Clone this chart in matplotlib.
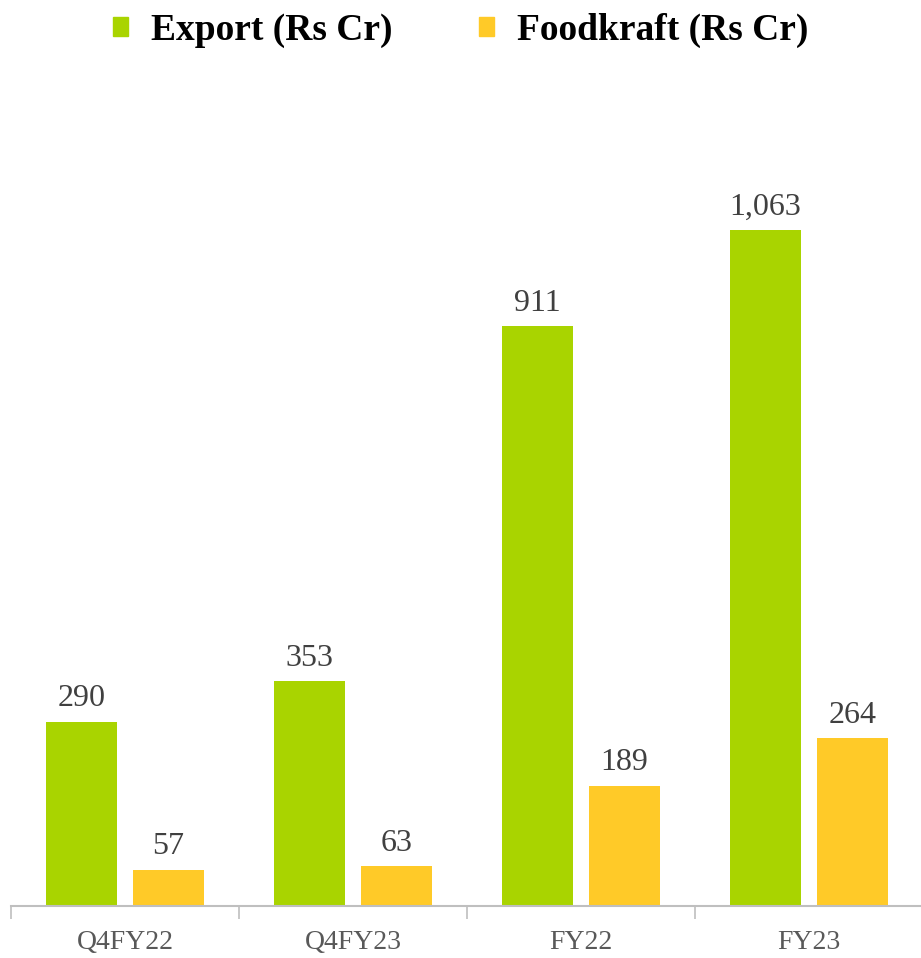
import matplotlib.pyplot as plt
import numpy as np
from matplotlib.patches import Patch

# Datos
categorias = ["Q4FY22", "Q4FY23", "FY22", "FY23"]
export = [290, 353, 911, 1063]
foodkraft = [57, 63, 189, 264]
etiquetas_export = ["290", "353", "911", "1,063"]
etiquetas_food = ["57", "63", "189", "264"]

verde = "#A9D400"
amarillo = "#FFCA28"

plt.rcParams['font.family'] = ['Liberation Serif', 'DejaVu Serif']

fig = plt.figure(figsize=(9.21, 9.58), dpi=100)
ax = fig.add_axes([0.012, 0.0543, 0.99, 0.8632])

x = np.arange(len(categorias))
ancho = 0.31
b1 = ax.bar(x - 0.19, export, ancho, color=verde)
b2 = ax.bar(x + 0.19, foodkraft, ancho, color=amarillo)

ax.bar_label(b1, labels=etiquetas_export, padding=6, fontsize=23, color="#404040")
ax.bar_label(b2, labels=etiquetas_food, padding=6, fontsize=23, color="#404040")

ax.set_xlim(-0.5, 3.5)
ax.set_ylim(0, 1300)

# Ejes: solo la linea inferior gris
for lado in ["top", "right", "left"]:
    ax.spines[lado].set_visible(False)
ax.spines["bottom"].set_color("#BFBFBF")
ax.spines["bottom"].set_linewidth(1.5)
ax.set_yticks([])

ax.set_xticks(x)
ax.set_xticklabels(categorias, fontsize=20, color="#595959")
ax.tick_params(axis="x", which="major", length=0, pad=17)
ax.set_xticks(np.arange(-0.5, 3.6, 1), minor=True)
ax.tick_params(axis="x", which="minor", length=9, width=1.2, color="#BFBFBF")

# Leyenda arriba
handles = [Patch(color=verde, label="Export (Rs Cr)"),
           Patch(color=amarillo, label="Foodkraft (Rs Cr)")]
fig.legend(handles=handles, loc="upper center", bbox_to_anchor=(0.5, 1.022), ncol=2,
           frameon=False, prop={'weight': 'bold', 'size': 27},
           handlelength=0.42, handleheight=0.42, handletextpad=0.6, columnspacing=2.3)

plt.savefig("out.png")
